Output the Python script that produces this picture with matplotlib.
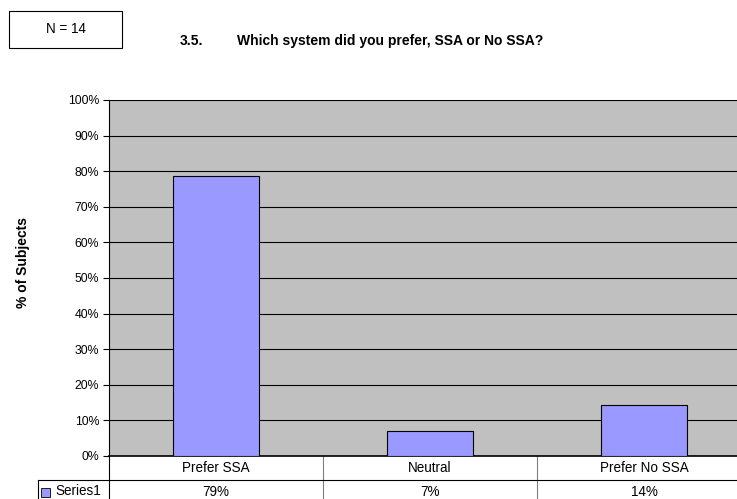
#!/usr/bin/env python3
"""Excel-style bar chart with a data table: preferred system, SSA or No SSA."""

import matplotlib

matplotlib.use("Agg")
import matplotlib.pyplot as plt
from matplotlib.patches import Rectangle
from matplotlib.ticker import FuncFormatter, MultipleLocator
from matplotlib.transforms import blended_transform_factory

plt.rcParams["font.family"] = ["Liberation Sans", "DejaVu Sans"]

categories = ["Prefer SSA", "Neutral", "Prefer No SSA"]
series_name = "Series1"
share = [0.7857, 0.0714, 0.1429]
table_labels = ["79%", "7%", "14%"]
sample_note = "N = 14"
title_number = "3.5."
title_text = "Which system did you prefer, SSA or No SSA?"
y_title = "% of Subjects"

W, H = 737, 499


def fx(px):
    return px / W


def fy(py):
    return 1 - py / H


fig = plt.figure(figsize=(W / 100, H / 100), dpi=100)
fig.patch.set_facecolor("white")

# plot area runs slightly past the right edge of the picture
ax = fig.add_axes([fx(109), fy(456), fx(751) - fx(109), fy(100) - fy(456)])
ax.set_facecolor("#C0C0C0")

x = range(len(categories))
ax.bar(x, share, width=0.4, color="#9999FF", edgecolor="black", linewidth=0.8, zorder=3)

ax.set_xlim(-0.5, len(categories) - 0.5)
ax.set_ylim(0, 1)
ax.yaxis.set_major_locator(MultipleLocator(0.1))
ax.yaxis.set_major_formatter(FuncFormatter(lambda v, _: f"{v:.0%}"))
ax.grid(axis="y", color="black", linewidth=0.8, zorder=1)
ax.set_xticks([])
ax.tick_params(axis="y", labelsize=8.8, length=4, width=0.8, pad=3)
for side in ("top", "right"):
    ax.spines[side].set_visible(False)
ax.spines["left"].set_linewidth(0.8)
ax.spines["bottom"].set_linewidth(1.2)

fig.text(fx(23), fy(262), y_title, rotation=90, ha="center", va="center",
         fontsize=10, fontweight="bold")

# data table under the plot area
trans = blended_transform_factory(ax.transData, ax.transAxes)
row_h = 24 / 356
line_kw = dict(transform=trans, clip_on=False, linewidth=0.8)
for i in range(1, len(categories)):
    ax.plot([i - 0.5, i - 0.5], [0, -2 * row_h - 0.1], color="#808080", **line_kw)
ax.plot([-0.5, -0.5], [0, -2 * row_h - 0.1], color="black", **line_kw)
ax.plot([-0.5, len(categories) - 0.5], [-row_h, -row_h], color="black", **line_kw)

for i, (cat, lab) in enumerate(zip(categories, table_labels)):
    ax.text(i, -row_h / 2, cat, transform=trans, ha="center", va="center", fontsize=9.75)
    ax.text(i, -1.5 * row_h, lab, transform=trans, ha="center", va="center", fontsize=9.75)

# legend key cell on the left of the series row
fig.add_artist(plt.Line2D([fx(38), fx(109)], [fy(480), fy(480)], color="black", linewidth=0.8))
fig.add_artist(plt.Line2D([fx(38), fx(38)], [fy(480), fy(500)], color="black", linewidth=0.8))
fig.add_artist(Rectangle((fx(41), fy(497)), fx(9), 9 / H, facecolor="#9999FF",
                         edgecolor="black", linewidth=0.6))
fig.text(fx(55), fy(491), series_name, ha="left", va="center", fontsize=9.75)

# sample size box and title
fig.add_artist(Rectangle((fx(9), fy(48)), fx(113), 37 / H, facecolor="white",
                         edgecolor="black", linewidth=0.8))
fig.text(fx(66), fy(29), sample_note, ha="center", va="center", fontsize=9.75)
fig.text(fx(180), fy(41), title_number, ha="left", va="center", fontsize=10, fontweight="bold")
fig.text(fx(237), fy(41), title_text, ha="left", va="center", fontsize=10, fontweight="bold")

fig.savefig("out.png", dpi=100)
